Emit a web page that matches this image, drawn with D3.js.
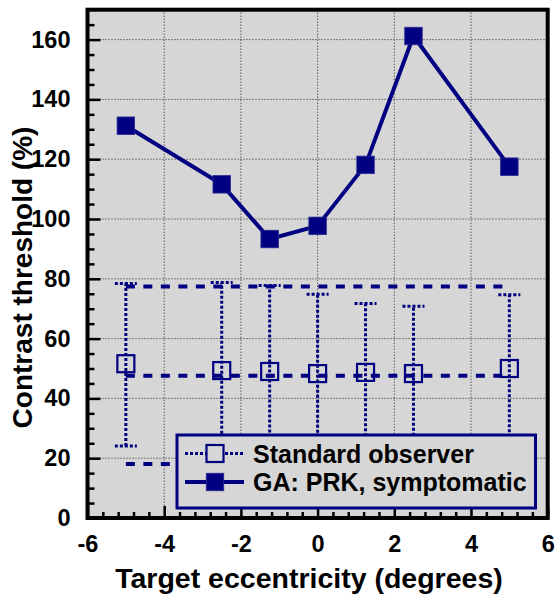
<!DOCTYPE html>
<html>
<head>
<meta charset="utf-8">
<script src="https://cdn.jsdelivr.net/npm/d3@7"></script>
<style>
  body { margin: 0; background: #ffffff; }
  svg { display: block; }
  text { font-family: "Liberation Sans", Arial, Helvetica, sans-serif; font-weight: bold; fill: #000; }
</style>
</head>
<body>
<svg id="chart" width="556" height="596"></svg>
<script>
// ---- Data ----
const eccentricity = [-5, -2.5, -1.25, 0, 1.25, 2.5, 5];
const gaPRK = [131.2, 111.6, 93.3, 97.7, 118.1, 161.2, 117.5];
const stdMean = [51.6, 49.3, 49.0, 48.3, 48.7, 48.3, 50.0];
const stdUpper = [78.4, 78.8, 77.8, 74.8, 71.7, 70.8, 74.7];
const stdLower = [24.1, 19.8, 20.2, 21.8, 25.7, 25.8, 25.3];
const normRangeX = [-5, 5];
const normRangeY = [77.4, 47.6, 18.1];
const xTicks = [-6, -4, -2, 0, 2, 4, 6];
const yTicks = [0, 20, 40, 60, 80, 100, 120, 140, 160];
const seriesNames = ["Standard observer", "GA: PRK, symptomatic"];
const xTitle = "Target eccentricity (degrees)";
const yTitle = "Contrast threshold (%)";

// ---- Layout ----
const navy = "#000080";
const bg = "#d6d6d6";
const L = 87.5, R = 547.7, T = 9.7, B = 518;

const svg = d3.select("#chart");
const x = d3.scaleLinear().domain([-6, 6]).range([L, R]);
const y = d3.scaleLinear().domain([0, 170]).range([B, T]);

// background
svg.append("rect").attr("x", L).attr("y", T).attr("width", R - L).attr("height", B - T).attr("fill", bg);

// grid
const grid = svg.append("g");
xTicks.filter(d => d > -6 && d < 6).forEach(d => {
  grid.append("line").attr("x1", x(d)).attr("x2", x(d)).attr("y1", T).attr("y2", B)
    .attr("stroke", "#222").attr("stroke-width", 1).attr("stroke-dasharray", "1,2");
});
yTicks.filter(d => d > 0).forEach(d => {
  grid.append("line").attr("x1", L).attr("x2", R).attr("y1", y(d)).attr("y2", y(d))
    .attr("stroke", "#222").attr("stroke-width", 1).attr("stroke-dasharray", "1,2");
});

// minor / major ticks (inward)
const xMinor = d3.range(-6, 6.001, 0.4).filter(v => Math.abs(v / 2 - Math.round(v / 2)) > 1e-6);
const yMinor = d3.range(5, 170, 5).filter(v => v % 20 !== 0);
const xAxisG = svg.append("g").attr("transform", `translate(0,${B})`)
  .call(d3.axisBottom(x).tickValues(xMinor).tickSize(-6).tickFormat(""));
const xAxisMajor = svg.append("g").attr("transform", `translate(0,${B})`)
  .call(d3.axisBottom(x).tickValues(xTicks).tickSize(-12).tickPadding(17).tickFormat(d3.format("d")));
const yAxisG = svg.append("g").attr("transform", `translate(${L},0)`)
  .call(d3.axisLeft(y).tickValues(yMinor).tickSize(-7).tickFormat(""));
const yAxisMajor = svg.append("g").attr("transform", `translate(${L},0)`)
  .call(d3.axisLeft(y).tickValues(yTicks).tickSize(-13).tickPadding(17).tickFormat(d3.format("d")));
[xAxisG, xAxisMajor, yAxisG, yAxisMajor].forEach(g => {
  g.select(".domain").remove();
  g.selectAll(".tick line").attr("stroke", "#000").attr("stroke-width", 2.5);
});
xAxisMajor.selectAll(".tick text").style("font-size", "23.5px").style("font-weight", "bold")
  .style("font-family", '"Liberation Sans", Arial, sans-serif').attr("fill", "#000")
  .text(d => d < 0 ? "-" + Math.abs(d) : d);
yAxisMajor.selectAll(".tick text").style("font-size", "23.5px").style("font-weight", "bold")
  .style("font-family", '"Liberation Sans", Arial, sans-serif').attr("fill", "#000");

// normal range dashed lines
normRangeY.forEach(v => {
  svg.append("line").attr("x1", x(normRangeX[0])).attr("x2", x(normRangeX[1]))
    .attr("y1", y(v)).attr("y2", y(v))
    .attr("stroke", navy).attr("stroke-width", 4).attr("stroke-dasharray", "9,8.5");
});

// standard observer error bars
const eb = svg.append("g");
eccentricity.forEach((e, i) => {
  eb.append("line").attr("x1", x(e)).attr("x2", x(e)).attr("y1", y(stdLower[i])).attr("y2", y(stdUpper[i]))
    .attr("stroke", navy).attr("stroke-width", 3).attr("stroke-dasharray", "3,2");
  [stdLower[i], stdUpper[i]].forEach(v => {
    eb.append("line").attr("x1", x(e) - 11).attr("x2", x(e) + 11).attr("y1", y(v)).attr("y2", y(v))
      .attr("stroke", navy).attr("stroke-width", 3).attr("stroke-dasharray", "3,2");
  });
});
// open squares
eb.selectAll("rect.open").data(eccentricity).enter().append("rect")
  .attr("x", (d) => x(d) - 8.5).attr("y", (d, i) => y(stdMean[i]) - 8.5)
  .attr("width", 17).attr("height", 17)
  .attr("fill", "none").attr("stroke", navy).attr("stroke-width", 2.2);

// GA line
const line = d3.line().x((d, i) => x(eccentricity[i])).y(d => y(d));
svg.append("path").datum(gaPRK).attr("d", line).attr("fill", "none")
  .attr("stroke", navy).attr("stroke-width", 4).attr("stroke-linejoin", "round");
svg.selectAll("rect.filled").data(gaPRK).enter().append("rect")
  .attr("x", (d, i) => x(eccentricity[i]) - 8.75).attr("y", d => y(d) - 8.75)
  .attr("width", 17.5).attr("height", 17.5).attr("fill", navy)
  .attr("stroke", "#2a2a96").attr("stroke-width", 0.8);

// legend
const lg = svg.append("g");
lg.append("rect").attr("x", 177).attr("y", 435).attr("width", 358.5).attr("height", 73)
  .attr("fill", bg).attr("stroke", navy).attr("stroke-width", 3);
const ly1 = 453.5, ly2 = 482;
lg.append("line").attr("x1", 185).attr("x2", 244).attr("y1", ly1).attr("y2", ly1)
  .attr("stroke", navy).attr("stroke-width", 3).attr("stroke-dasharray", "3,2");
lg.append("rect").attr("x", 215 - 8.5).attr("y", ly1 - 8.5).attr("width", 17).attr("height", 17)
  .attr("fill", bg).attr("stroke", navy).attr("stroke-width", 2.2);
lg.append("line").attr("x1", 185).attr("x2", 244).attr("y1", ly2).attr("y2", ly2)
  .attr("stroke", navy).attr("stroke-width", 4);
lg.append("rect").attr("x", 215 - 8.75).attr("y", ly2 - 8.75).attr("width", 17.5).attr("height", 17.5)
  .attr("fill", navy).attr("stroke", "#2a2a96").attr("stroke-width", 0.8);
lg.append("text").attr("x", 253).attr("y", ly1 + 9).style("font-size", "25px").text(seriesNames[0]);
lg.append("text").attr("x", 253).attr("y", ly2 + 9).style("font-size", "25px").text(seriesNames[1]);

// frame
svg.append("rect").attr("x", L).attr("y", T).attr("width", R - L).attr("height", B - T)
  .attr("fill", "none").attr("stroke", "#000").attr("stroke-width", 4);

// titles
svg.append("text").attr("x", 309).attr("y", 588).attr("text-anchor", "middle")
  .style("font-size", "28.5px").text(xTitle);
svg.append("text").attr("transform", "translate(32,277.5) rotate(-90)").attr("text-anchor", "middle")
  .style("font-size", "28px").text(yTitle);
</script>
</body>
</html>
